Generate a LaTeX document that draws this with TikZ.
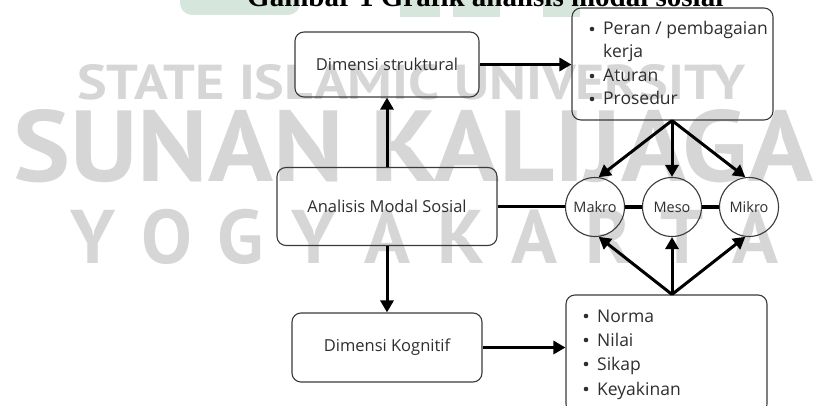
\documentclass[tikz,border=0pt]{standalone}
\usepackage{fontspec}
\setmainfont{Open Sans}
\newfontfamily\wmfont{PT Sans}
\newfontfamily\titlefont{Liberation Serif}
\usetikzlibrary{arrows.meta}
\definecolor{wm}{HTML}{D6D6D6}
\definecolor{logo}{HTML}{D6E6DD}
\definecolor{txt}{HTML}{2E2E2E}
\definecolor{edge}{HTML}{3A3A3A}
\begin{document}
\begin{tikzpicture}[x=1pt,y=-1pt,
  rbox/.style={draw=edge,line width=1.1pt,rounded corners=9pt,inner sep=0pt},
  lvl/.style={draw=edge,line width=1.1pt,circle,minimum size=59pt,inner sep=0pt,font=\fontsize{14.5}{17}\selectfont,text=txt},
  lbl/.style={font=\fontsize{16.5}{20}\selectfont,text=txt},
  item/.style={font=\fontsize{17.5}{20}\selectfont,text=txt,anchor=base west,inner sep=0pt},
  dot/.style={circle,fill=txt,inner sep=0pt,minimum size=4.6pt},
  wmark/.style={text=wm,inner sep=0pt,font=\wmfont\bfseries},
  arr/.style={line width=3pt,-{Triangle[length=12pt,width=13pt]}},
  cline/.style={draw=black,line width=3.3pt},
]
\useasboundingbox (0,0) rectangle (813,406);
% logo fragments and title
\fill[logo, rounded corners=12pt] (180,-20) rectangle (300,15);
\fill[logo] (400,-20) rectangle (440,17);
\fill[logo] (453,-20) rectangle (500,17);
\fill[logo] (543,-20) rectangle (580,17);
\node[anchor=base west,inner sep=0pt,font=\titlefont\bfseries\fontsize{29}{30}\selectfont] (title) at (247,7) {Gambar 1 Grafik analisis modal sosial};
% watermark
\node[wmark,anchor=base west] (wm1) at (77,100) {\resizebox{668pt}{35pt}{STATE ISLAMIC UNIVERSITY}};
\node[wmark,anchor=base west] (wm2) at (13,182) {\resizebox{800pt}{72pt}{SUNAN KALIJAGA}};
\foreach \l [count=\i from 0] in {Y,O,G,Y,A,K,A,R,T,A}{
  \node[wmark,anchor=base,font=\wmfont\bfseries\fontsize{76}{80}\selectfont] (wy\i) at (93+73.6*\i,263) {\l};
}
% boxes
\node[rbox,minimum width=184pt,minimum height=65pt] (ds) at (387,64.5) {};
\node[lbl] (dst) at (387,64.5) {Dimensi struktural};
\node[rbox,minimum width=201pt,minimum height=112pt] (tr) at (672.5,64) {};
\node[rbox,minimum width=220pt,minimum height=78pt] (ams) at (387,206.5) {};
\node[lbl] (amst) at (387,206) {Analisis Modal Sosial};
\node[rbox,minimum width=190pt,minimum height=69pt] (dk) at (387,347.5) {};
\node[lbl] (dkt) at (387,347.5) {Dimensi Kognitif};
\node[rbox,minimum width=201pt,minimum height=118pt] (br) at (666.5,354) {};
% list texts
\node[dot] (b1) at (592,29) {};
\node[item] (t1) at (603,35) {Peran / pembagaian};
\node[item] (t1b) at (603,58) {kerja};
\node[dot] (b2) at (592,76) {};
\node[item] (t2) at (603,82) {Aturan};
\node[dot] (b3) at (592,99) {};
\node[item] (t3) at (603,105) {Prosedur};
\node[dot] (c1) at (586,316) {};
\node[item] (u1) at (597,322) {Norma};
\node[dot] (c2) at (586,340) {};
\node[item] (u2) at (597,346) {Nilai};
\node[dot] (c3) at (586,364) {};
\node[item] (u3) at (597,370) {Sikap};
\node[dot] (c4) at (586,389) {};
\node[item] (u4) at (597,395) {Keyakinan};
% levels
\node[lvl] (makro) at (595,207) {Makro};
\node[lvl] (meso) at (672,207) {Meso};
\node[lvl] (mikro) at (749,207) {Mikro};
% connectors
\draw[arr] (ams.north) -- (ds.south);
\draw[arr] (ams.south) -- (dk.north);
\draw[arr] (ds.east) -- (ds.east -| tr.west);
\draw[arr] (dk.east) -- (dk.east -| br.west);
\draw[cline] (ams.east) -- (ams.east -| makro.west);
\draw[cline] (makro.east) -- (meso.west);
\draw[cline] (meso.east) -- (mikro.west);
\coordinate (trs) at (tr.south -| meso);
\coordinate (brn) at (br.north -| meso);
\draw[arr] (trs) -- (makro.83);
\draw[arr] (trs) -- (meso.north);
\draw[arr] (trs) -- (mikro.97);
\draw[arr] (brn) -- (makro.-83);
\draw[arr] (brn) -- (meso.south);
\draw[arr] (brn) -- (mikro.-97);
\end{tikzpicture}
\end{document}
